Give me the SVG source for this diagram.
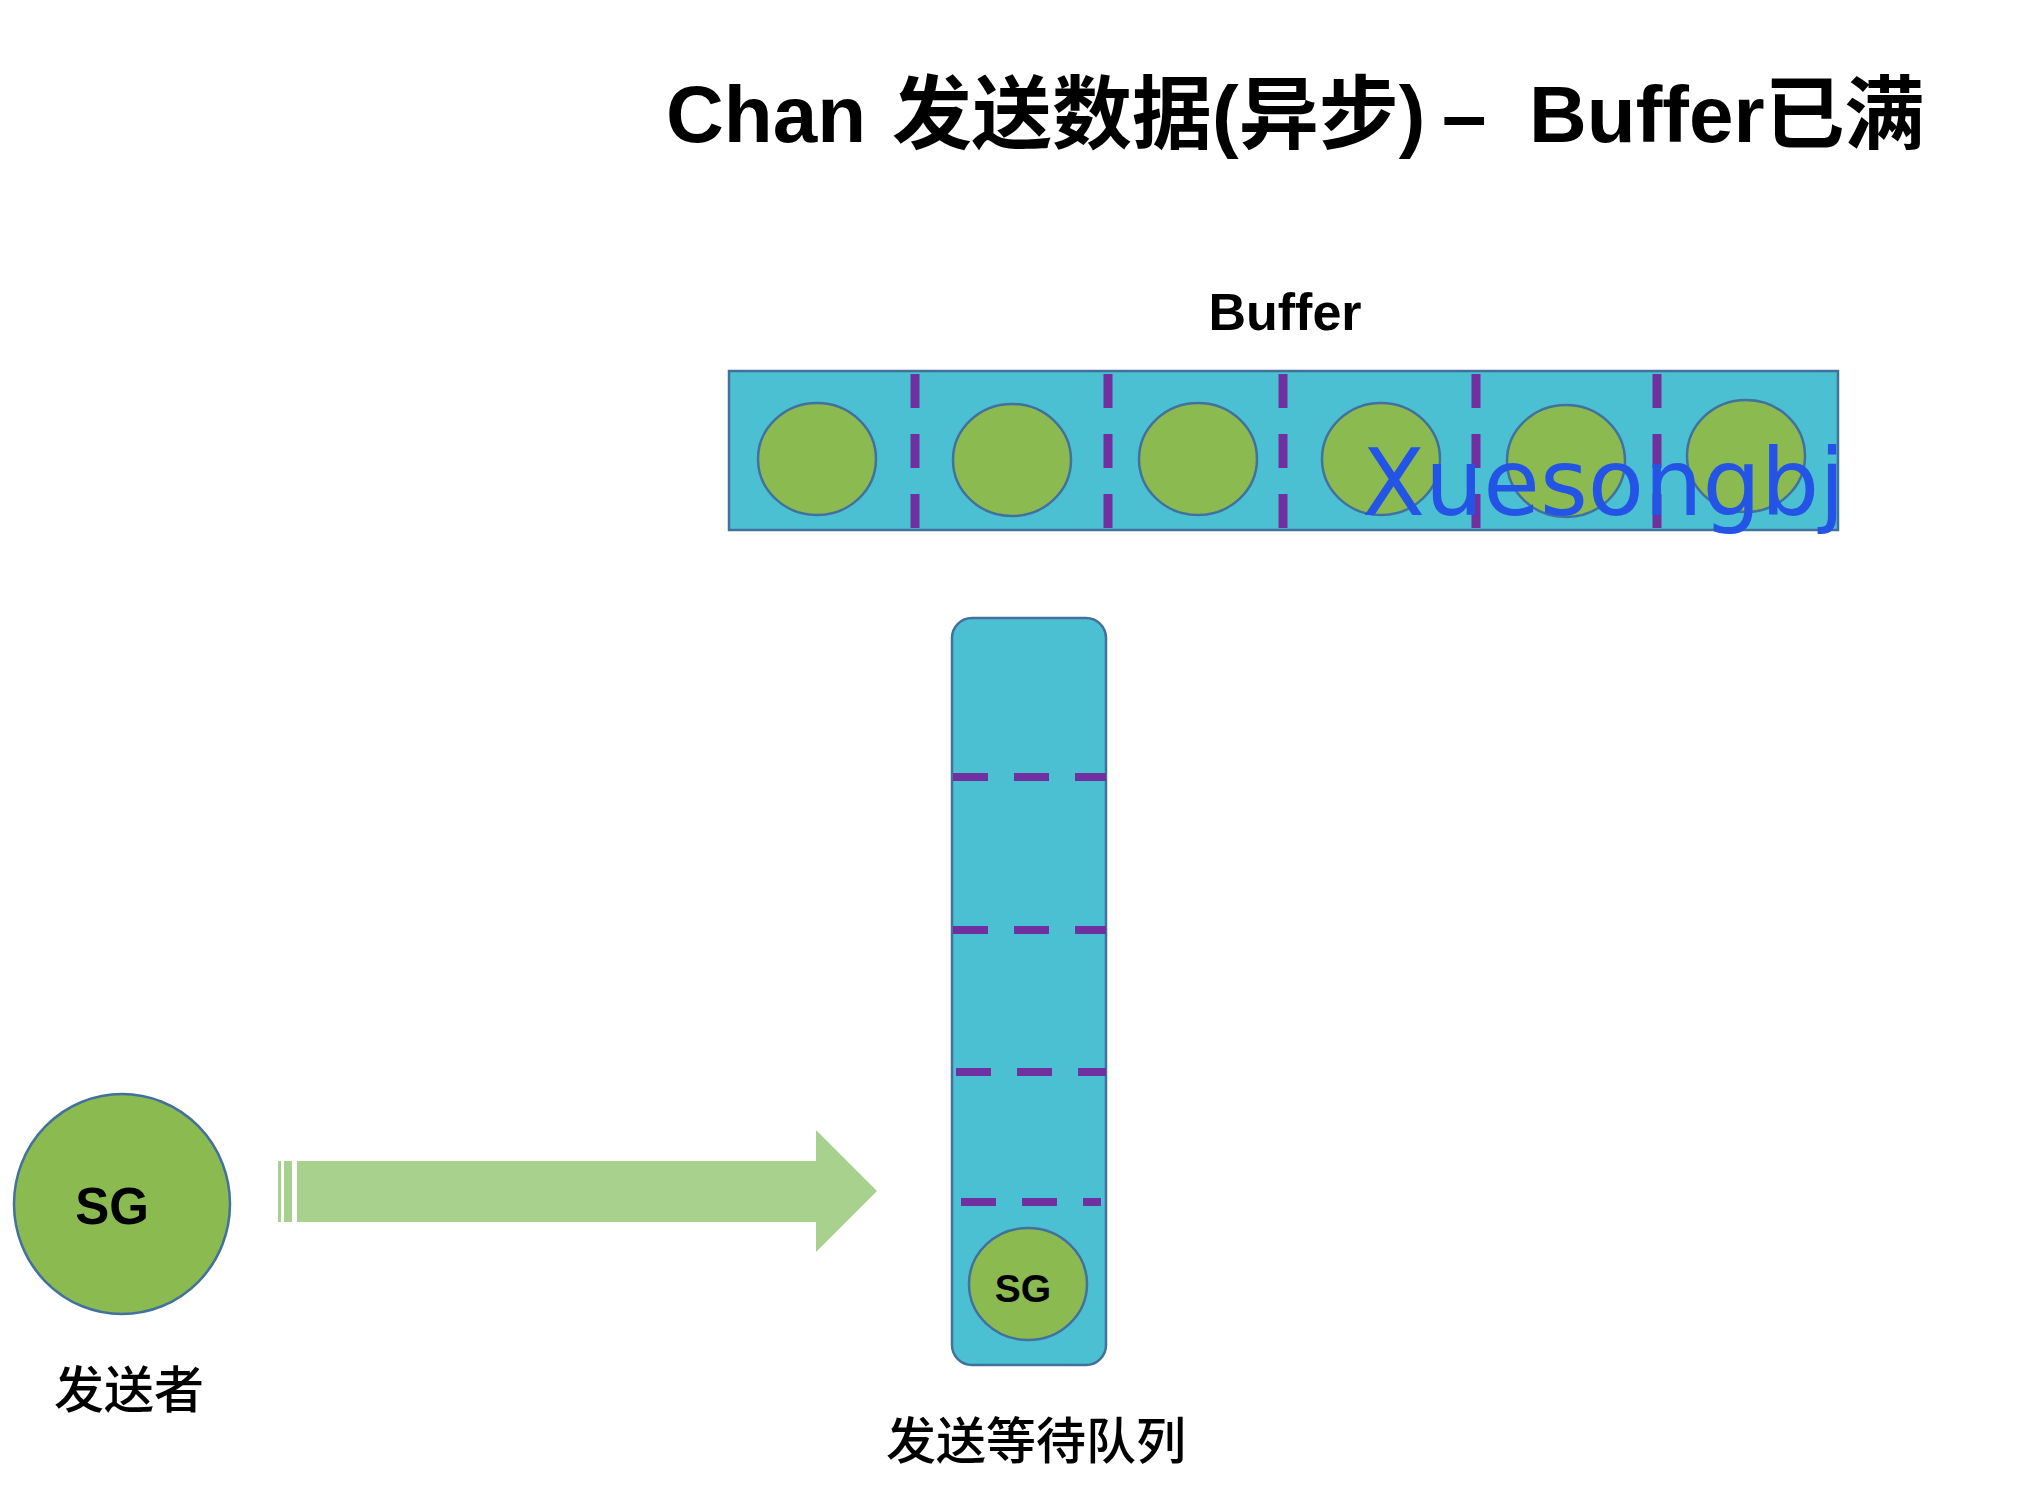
<svg xmlns="http://www.w3.org/2000/svg" width="2028" height="1492" viewBox="0 0 2028 1492">
<style>
.cell{fill:#4BC0D2;stroke:#41719C;stroke-width:2.5}
.ball{fill:#8BBB50;stroke:#41719C;stroke-width:2.5}
.vdash{stroke:#7030A0;stroke-width:9;stroke-dasharray:34 26}
.hdash{stroke:#7030A0;stroke-width:8;stroke-dasharray:35 26}
.t{font-family:"Liberation Sans","Noto Sans CJK SC",Arial,sans-serif;fill:#000}
.b{font-weight:bold}
.m{font-weight:500}
</style>
<rect width="2028" height="1492" fill="#fff"/>
<g id="title">
<text class="t b" font-size="80" y="142"><tspan x="666">Chan</tspan><tspan x="892">发送数据(异步)</tspan><tspan x="1442">–</tspan><tspan x="1529">Buffer已满</tspan></text>
</g>
<g id="buffer">
<text class="t b" font-size="52" x="1285" y="330" text-anchor="middle">Buffer</text>
<rect class="cell" x="729" y="371" width="1109" height="159"/>
<line class="vdash" x1="915" y1="374" x2="915" y2="530"/>
<line class="vdash" x1="1108" y1="374" x2="1108" y2="530"/>
<line class="vdash" x1="1283" y1="374" x2="1283" y2="530"/>
<line class="vdash" x1="1476" y1="374" x2="1476" y2="530"/>
<line class="vdash" x1="1657" y1="374" x2="1657" y2="530"/>
<ellipse class="ball" cx="817" cy="459" rx="59" ry="56"/>
<ellipse class="ball" cx="1012" cy="460" rx="59" ry="56"/>
<ellipse class="ball" cx="1198" cy="459" rx="59" ry="56"/>
<ellipse class="ball" cx="1381" cy="459" rx="59" ry="56"/>
<ellipse class="ball" cx="1566" cy="461" rx="59" ry="56"/>
<ellipse class="ball" cx="1746" cy="456" rx="59" ry="56"/>
</g>
<g id="queue">
<rect class="cell" x="952" y="618" width="154" height="747" rx="20"/>
<line class="hdash" x1="953" y1="777" x2="1106" y2="777"/>
<line class="hdash" x1="953" y1="930" x2="1106" y2="930"/>
<line class="hdash" x1="956" y1="1072" x2="1106" y2="1072"/>
<line class="hdash" x1="961" y1="1202" x2="1101" y2="1202"/>
<ellipse class="ball" cx="1028" cy="1284" rx="59" ry="56"/>
<text class="t b" font-size="39" x="1023" y="1302" text-anchor="middle">SG</text>
<text class="t m" font-size="50" x="1036" y="1459" text-anchor="middle">发送等待队列</text>
</g>
<g id="sender">
<ellipse class="ball" cx="122" cy="1204" rx="108" ry="110"/>
<text class="t b" font-size="51" x="112" y="1224" text-anchor="middle">SG</text>
<text class="t m" font-size="50" x="129" y="1408" text-anchor="middle">发送者</text>
</g>
<g id="connectors">
<rect x="278" y="1161" width="3" height="61" fill="#A9D18E"/>
<rect x="284" y="1161" width="8" height="61" fill="#A9D18E"/>
<path d="M297 1161 H816 V1130 L877 1191 L816 1252 V1222 H297 Z" fill="#A9D18E"/>
</g>
<text x="1362" y="515" font-family="DejaVu Sans,sans-serif" font-size="92" fill="#2454E6">Xuesongbj</text>
</svg>
